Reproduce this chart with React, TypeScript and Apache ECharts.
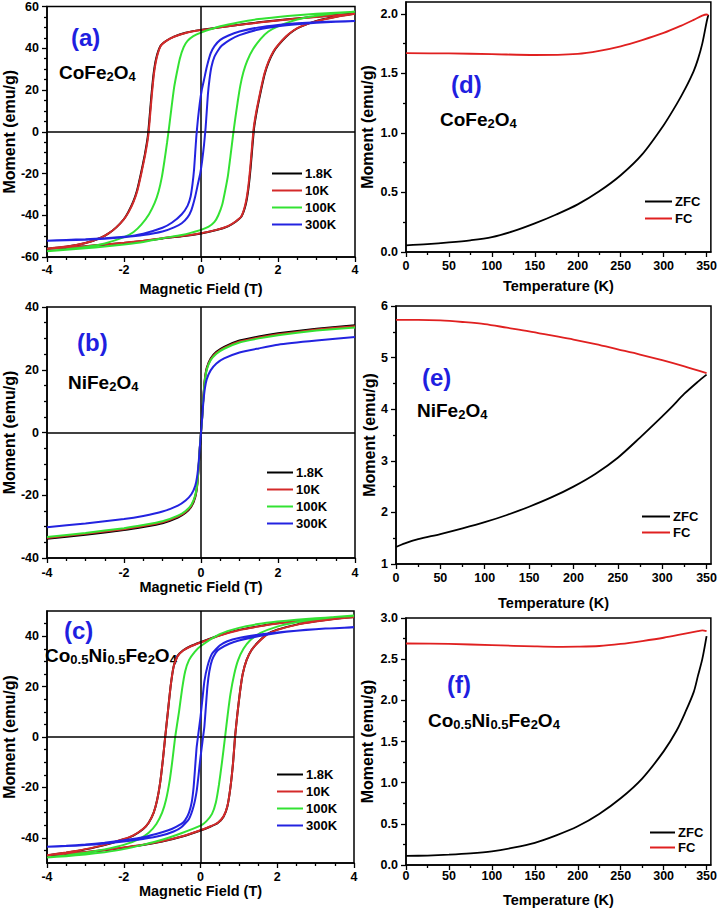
import React, { useEffect, useRef } from 'react';
import * as echarts from 'echarts';

const FONT = 'Arial, "Liberation Sans", Helvetica, sans-serif';

const TEMPS = ['1.8K', '10K', '100K', '300K'];
const COLORS_H = ['#000000', '#d42a2a', '#33e233', '#2323e0'];
const CURVES_T = ['ZFC', 'FC'];
const COLORS_T = ['#000000', '#e02020'];

// Tick labels
const H_MAJOR = [-4, -2, 0, 2, 4];
const H_MINOR = [-3.5, -3, -2.5, -1.5, -1, -0.5, 0.5, 1, 1.5, 2.5, 3, 3.5];
const MA_MAJOR = [-60, -40, -20, 0, 20, 40, 60];
const MA_MINOR = [-55, -50, -45, -35, -30, -25, -15, -10, -5, 5, 10, 15, 25, 30, 35, 45, 50, 55];
const MB_MAJOR = [-40, -20, 0, 20, 40];
const MB_MINOR = [-35, -30, -25, -15, -10, -5, 5, 10, 15, 25, 30, 35];
const MC_MAJOR = [-40, -20, 0, 20, 40];
const MC_MINOR = [-45, -35, -30, -25, -15, -10, -5, 5, 10, 15, 25, 30, 35, 45];
const T_MAJOR = [0, 50, 100, 150, 200, 250, 300, 350];
const T_MINOR = [25, 75, 125, 175, 225, 275, 325];
const MD_MAJOR = [0, 0.5, 1, 1.5, 2];
const MD_MINOR = [0.25, 0.75, 1.25, 1.75];
const ME_MAJOR = [1, 2, 3, 4, 5, 6];
const ME_MINOR = [1.5, 2.5, 3.5, 4.5, 5.5];
const MF_MAJOR = [0, 0.5, 1, 1.5, 2, 2.5, 3];
const MF_MINOR = [0.25, 0.75, 1.25, 1.75, 2.25, 2.75];

// (a) CoFe2O4 hysteresis loops [H (T), M (emu/g)]
const a_1p8K = [[4,56.6],[3.5,55.9],[3,55.1],[2.5,54.3],[2,53.4],[1.5,52.4],[1,51.3],[0.5,50.1],[0,48.8],[-0.4,47.4],[-0.7,45.6],[-0.9,43.6],[-1.05,41.2],[-1.16,35.5],[-1.23,28],[-1.29,17],[-1.34,6],[-1.38,-2],[-1.46,-11],[-1.56,-20],[-1.66,-28],[-1.76,-33.5],[-1.89,-38.5],[-2,-41.8],[-2.2,-45.8],[-2.4,-48.7],[-2.6,-50.8],[-3,-53.3],[-3.5,-55.1],[-4,-56.1],[-3.5,-55.6],[-3,-54.9],[-2.5,-54.1],[-2,-53.3],[-1.5,-52.3],[-1,-51.1],[-0.5,-50.1],[0,-48.7],[0.4,-47.1],[0.7,-45.3],[0.9,-43.1],[1.05,-40.6],[1.16,-35],[1.23,-27.5],[1.29,-17],[1.34,-6],[1.38,2],[1.46,11],[1.56,20],[1.66,28],[1.76,33.5],[1.89,38.5],[2.01,41.5],[2.21,45.5],[2.41,48.5],[2.61,50.5],[3,53.1],[3.5,55.1],[4,56.6]];
const a_10K = [[4,56.5],[3.5,55.8],[3,55],[2.5,54.2],[2,53.3],[1.5,52.3],[1,51.2],[0.5,50],[0,48.7],[-0.4,47.3],[-0.7,45.5],[-0.9,43.5],[-1.05,41],[-1.15,35.5],[-1.22,28],[-1.28,17],[-1.33,6],[-1.37,-2],[-1.45,-11],[-1.55,-20],[-1.65,-28],[-1.75,-33.5],[-1.88,-38.5],[-2,-41.8],[-2.2,-45.8],[-2.4,-48.7],[-2.6,-50.8],[-3,-53.3],[-3.5,-55],[-4,-56],[-3.5,-55.5],[-3,-54.8],[-2.5,-54],[-2,-53.2],[-1.5,-52.2],[-1,-51],[-0.5,-50],[0,-48.6],[0.4,-47],[0.7,-45.2],[0.9,-43],[1.05,-40.5],[1.15,-35],[1.22,-27.5],[1.28,-17],[1.33,-6],[1.37,2],[1.45,11],[1.55,20],[1.65,28],[1.75,33.5],[1.88,38.5],[2,41.5],[2.2,45.5],[2.4,48.5],[2.6,50.5],[3,53],[3.5,55],[4,56.5]];
const a_100K = [[4,57.5],[3.5,57],[3,56.5],[2.5,55.8],[2,55],[1.5,54],[1,52.5],[0.5,50.5],[0,47.5],[-0.2,45.8],[-0.35,43.5],[-0.45,40.5],[-0.55,35],[-0.63,28],[-0.7,21],[-0.77,11],[-0.83,2],[-0.88,-5],[-0.95,-14],[-1.02,-22],[-1.1,-28.5],[-1.2,-34],[-1.35,-39.5],[-1.55,-44.5],[-1.75,-48],[-2,-50.5],[-2.5,-53.5],[-3,-55.2],[-3.5,-56.3],[-4,-57.2],[-3.5,-56.5],[-3,-55.8],[-2.5,-55],[-2,-54],[-1.5,-52.8],[-1,-51],[-0.5,-49.5],[0,-47],[0.2,-45.5],[0.35,-43.2],[0.45,-40],[0.55,-35],[0.63,-28],[0.7,-21],[0.77,-11],[0.83,-2],[0.88,5],[0.95,14],[1.02,22],[1.1,28.5],[1.2,34],[1.35,39.5],[1.55,44.5],[1.75,48],[2,50.5],[2.5,53.8],[3,55.6],[3.5,56.8],[4,57.5]];
const a_300K = [[4,53],[3.5,52.8],[3,52.5],[2.5,52],[2,51.2],[1.5,50],[1,48],[0.7,46],[0.5,44],[0.35,41],[0.25,37.5],[0.15,31],[0.08,25],[0.02,20],[-0.03,14],[-0.08,6],[-0.12,-2],[-0.15,-10],[-0.18,-18],[-0.22,-25],[-0.27,-31],[-0.35,-35.5],[-0.5,-39.5],[-0.75,-43.5],[-1,-46],[-1.5,-48.8],[-2,-50.3],[-2.5,-51],[-3,-51.5],[-3.5,-51.8],[-4,-52.2],[-3.5,-52],[-3,-51.7],[-2.5,-51.2],[-2,-50.5],[-1.5,-49.5],[-1,-47.8],[-0.7,-45.8],[-0.5,-43.8],[-0.35,-41],[-0.25,-37.5],[-0.15,-31],[-0.08,-25],[-0.02,-20],[0.03,-14],[0.08,-6],[0.12,2],[0.15,10],[0.18,18],[0.22,25],[0.27,31],[0.35,36],[0.5,40.5],[0.75,44],[1,46.3],[1.5,49],[2,50.5],[2.5,51.5],[3,52.2],[3.5,52.7],[4,53]];

// (b) NiFe2O4
const b_1p8K = [[-4,-33.9],[-3,-32.6],[-2,-31.1],[-1.5,-30.1],[-1,-28.9],[-0.6,-27.1],[-0.4,-25.6],[-0.25,-23.6],[-0.15,-20.6],[-0.1,-17],[-0.06,-11],[-0.03,-5],[0,0],[0.03,5],[0.06,11],[0.1,17],[0.15,20.6],[0.25,23.6],[0.4,25.7],[0.6,27.3],[1,29.3],[1.5,30.6],[2,31.6],[3,33.1],[4,34.2]];
const b_10K = [[-4,-33.6],[-3,-32.3],[-2,-30.8],[-1.5,-29.8],[-1,-28.6],[-0.6,-26.8],[-0.4,-25.3],[-0.25,-23.3],[-0.15,-20.3],[-0.1,-16.8],[-0.06,-10.8],[-0.03,-4.9],[0,0],[0.03,4.9],[0.06,10.8],[0.1,16.8],[0.15,20.3],[0.25,23.3],[0.4,25.4],[0.6,27],[1,29],[1.5,30.3],[2,31.3],[3,32.8],[4,33.9]];
const b_100K = [[-4,-33.3],[-3,-32],[-2,-30.5],[-1.5,-29.5],[-1,-28.3],[-0.6,-26.5],[-0.4,-25],[-0.25,-23],[-0.15,-20],[-0.1,-16.5],[-0.06,-10.5],[-0.03,-4.8],[0,0],[0.03,4.8],[0.06,10.5],[0.1,16.5],[0.15,20],[0.25,23],[0.4,25.1],[0.6,26.7],[1,28.7],[1.5,30],[2,31],[3,32.5],[4,33.5]];
const b_300K = [[-4,-30.2],[-3,-29],[-2,-27.6],[-1.5,-26.6],[-1,-25.2],[-0.6,-23.3],[-0.4,-21.7],[-0.25,-19.7],[-0.15,-17],[-0.1,-14],[-0.06,-9.5],[-0.03,-4.5],[0,0],[0.03,4.5],[0.06,9.5],[0.1,14],[0.15,17],[0.25,19.8],[0.4,22],[0.6,23.6],[1,25.5],[1.5,26.8],[2,28],[3,29.3],[4,30.4]];

// (c) Co0.5Ni0.5Fe2O4
const c_1p8K = [[4,47.6],[3.5,47.1],[3,46.4],[2.5,45.8],[2,45.1],[1.5,43.9],[1,42.5],[0.5,40.4],[0,37.6],[-0.25,36.1],[-0.45,34.4],[-0.6,32.1],[-0.7,28],[-0.78,20],[-0.85,10],[-0.92,0],[-0.98,-9],[-1.05,-18],[-1.13,-25],[-1.22,-30],[-1.35,-34],[-1.5,-36.6],[-1.75,-39.1],[-2,-40.6],[-2.5,-42.9],[-3,-44.6],[-3.5,-45.9],[-4,-47],[-3.5,-46.4],[-3,-45.7],[-2.5,-44.9],[-2,-43.9],[-1.5,-42.9],[-1,-41.5],[-0.5,-39.6],[0,-37.1],[0.25,-35.6],[0.45,-34.1],[0.6,-31.6],[0.7,-27.6],[0.78,-20],[0.85,-10],[0.9,0],[0.96,9],[1.03,18],[1.1,25],[1.2,30.5],[1.33,34.5],[1.5,37.6],[1.75,40.9],[2,42.6],[2.5,44.6],[3,45.9],[3.5,46.9],[4,47.7]];
const c_10K = [[4,47.5],[3.5,47],[3,46.3],[2.5,45.7],[2,45],[1.5,43.8],[1,42.4],[0.5,40.3],[0,37.5],[-0.25,36],[-0.45,34.3],[-0.6,32],[-0.7,28],[-0.78,20],[-0.85,10],[-0.92,0],[-0.98,-9],[-1.05,-18],[-1.13,-25],[-1.22,-30],[-1.35,-34],[-1.5,-36.5],[-1.75,-39],[-2,-40.5],[-2.5,-42.8],[-3,-44.5],[-3.5,-45.8],[-4,-46.9],[-3.5,-46.3],[-3,-45.6],[-2.5,-44.8],[-2,-43.8],[-1.5,-42.8],[-1,-41.4],[-0.5,-39.5],[0,-37],[0.25,-35.5],[0.45,-34],[0.6,-31.5],[0.7,-27.5],[0.78,-20],[0.85,-10],[0.9,0],[0.96,9],[1.03,18],[1.1,25],[1.2,30.5],[1.33,34.5],[1.5,37.5],[1.75,40.8],[2,42.5],[2.5,44.5],[3,45.8],[3.5,46.8],[4,47.6]];
const c_100K = [[4,48],[3.5,47.6],[3,47.1],[2.5,46.5],[2,45.8],[1.5,44.8],[1,43.3],[0.5,40.8],[0,36],[-0.15,33.8],[-0.3,30.5],[-0.4,26],[-0.48,19],[-0.56,10],[-0.66,0],[-0.73,-9],[-0.8,-17],[-0.9,-25],[-1,-30],[-1.15,-34.5],[-1.35,-38],[-1.6,-40.5],[-2,-42.8],[-2.5,-44.6],[-3,-45.9],[-3.5,-47],[-4,-47.8],[-3.5,-47.3],[-3,-46.6],[-2.5,-45.7],[-2,-44.5],[-1.5,-42.8],[-1,-40.8],[-0.5,-38.2],[0,-35.2],[0.15,-33.5],[0.3,-30.5],[0.4,-26],[0.48,-19],[0.56,-10],[0.64,0],[0.71,9],[0.78,17],[0.88,25],[0.98,30.5],[1.12,35],[1.3,38.5],[1.55,41.2],[2,43.8],[2.5,45.5],[3,46.7],[3.5,47.6],[4,48.2]];
const c_300K = [[4,43.5],[3.5,43.2],[3,42.8],[2.5,42.2],[2,41.5],[1.5,40.6],[1,39.3],[0.7,38],[0.5,36.3],[0.3,33],[0.18,28],[0.1,22],[0.05,15],[0,8],[-0.05,2],[-0.1,-4],[-0.14,-12],[-0.18,-20],[-0.23,-26],[-0.3,-30],[-0.4,-33],[-0.5,-34.5],[-0.75,-36.5],[-1,-37.8],[-1.5,-39.8],[-2,-41],[-2.5,-42],[-3,-42.7],[-3.5,-43.2],[-4,-43.6],[-3.5,-43.3],[-3,-42.9],[-2.5,-42.3],[-2,-41.5],[-1.5,-40.5],[-1,-39],[-0.7,-37.5],[-0.5,-35.8],[-0.3,-32.5],[-0.18,-27.5],[-0.1,-21.5],[-0.05,-15],[0,-8],[0.05,-2],[0.1,4],[0.14,12],[0.18,20],[0.23,26],[0.3,30.5],[0.4,33.5],[0.5,35],[0.75,37],[1,38.3],[1.5,40],[2,41.3],[2.5,42.2],[3,42.8],[3.5,43.2],[4,43.6]];

// (d) CoFe2O4 ZFC / FC
const d_zfcT = [0, 25, 50, 75, 100, 125, 150, 175, 200, 225, 250, 275, 300, 315, 325, 335, 340, 345, 350, 352];
const d_zfcM = [0.056, 0.066, 0.08, 0.098, 0.125, 0.175, 0.24, 0.315, 0.4, 0.51, 0.645, 0.82, 1.065, 1.24, 1.37, 1.52, 1.62, 1.75, 1.93, 1.99];
const d_fcT = [0, 50, 100, 150, 200, 225, 250, 275, 300, 320, 335, 345, 350, 352];
const d_fcM = [1.67, 1.668, 1.662, 1.655, 1.665, 1.69, 1.728, 1.78, 1.84, 1.9, 1.95, 1.985, 1.995, 1.99];

// (e) NiFe2O4 ZFC / FC
const e_zfcT = [0, 10, 25, 50, 75, 100, 125, 150, 175, 200, 225, 250, 275, 300, 310, 325, 340, 350];
const e_zfcM = [1.33, 1.4, 1.48, 1.58, 1.69, 1.81, 1.95, 2.11, 2.29, 2.5, 2.75, 3.06, 3.45, 3.86, 4.03, 4.3, 4.53, 4.67];
const e_fcT = [0, 25, 50, 75, 100, 125, 150, 175, 200, 225, 250, 275, 300, 325, 350];
const e_fcM = [5.73, 5.73, 5.72, 5.69, 5.65, 5.58, 5.51, 5.43, 5.35, 5.26, 5.16, 5.06, 4.95, 4.83, 4.7];

// (f) Co0.5Ni0.5Fe2O4 ZFC / FC
const f_zfcT = [0, 25, 50, 75, 100, 125, 150, 175, 200, 225, 250, 275, 300, 315, 325, 335, 340, 345, 350];
const f_zfcM = [0.11, 0.115, 0.125, 0.14, 0.165, 0.21, 0.27, 0.36, 0.47, 0.62, 0.81, 1.05, 1.38, 1.63, 1.85, 2.1, 2.3, 2.5, 2.78];
const f_fcT = [0, 50, 100, 150, 175, 200, 225, 250, 275, 300, 325, 340, 345, 350];
const f_fcM = [2.69, 2.685, 2.67, 2.655, 2.65, 2.652, 2.66, 2.685, 2.72, 2.76, 2.81, 2.84, 2.85, 2.84];

const zip = (xs: number[], ys: number[]) => xs.map((x, i) => [x, ys[i]]);

type Panel = {
  grid: { left: number; top: number; width: number; height: number };
  xMin: number; xMax: number; xMajor: number[]; xMinor: number[];
  yMin: number; yMax: number; yMajor: number[]; yMinor: number[];
  xName: string; xGap: number; yGap: number; xMargin: number; yFmt: (v: number) => string;
  kind: 'H' | 'T';
  series: number[][][];
  legend: { left: number; top: number; w: number; gap: number };
  letter: { text: string; x: number; y: number };
  formula: { text: string; x: number; y: number };
};

const intFmt = (v: number) => String(v);
const oneFmt = (v: number) => v.toFixed(1);

const PANELS: Panel[] = [
  {
    grid: { left: 45, top: 6, width: 310, height: 251 },
    xMin: -4, xMax: 4, xMajor: H_MAJOR, xMinor: H_MINOR,
    yMin: -60, yMax: 60, yMajor: MA_MAJOR, yMinor: MA_MINOR,
    xName: 'Magnetic Field (T)', xGap: 24, yGap: 30, xMargin: 6, yFmt: intFmt, kind: 'H',
    series: [a_1p8K, a_10K, a_100K, a_300K],
    legend: { left: 272, top: 166, w: 30, gap: 2 },
    letter: { text: '(a)', x: 71, y: 37 },
    formula: { text: '{m|CoFe}{s|2}{m|O}{s|4}', x: 59, y: 72 },
  },
  {
    grid: { left: 45, top: 307, width: 310, height: 251 },
    xMin: -4, xMax: 4, xMajor: H_MAJOR, xMinor: H_MINOR,
    yMin: -40, yMax: 40, yMajor: MB_MAJOR, yMinor: MB_MINOR,
    xName: 'Magnetic Field (T)', xGap: 20, yGap: 30, xMargin: 8, yFmt: intFmt, kind: 'H',
    series: [b_1p8K, b_10K, b_100K, b_300K],
    legend: { left: 267, top: 465, w: 26, gap: 2 },
    letter: { text: '(b)', x: 77, y: 342 },
    formula: { text: '{m|NiFe}{s|2}{m|O}{s|4}', x: 68, y: 382 },
  },
  {
    grid: { left: 44, top: 611, width: 310, height: 252 },
    xMin: -4, xMax: 4, xMajor: H_MAJOR, xMinor: H_MINOR,
    yMin: -50, yMax: 50, yMajor: MC_MAJOR, yMinor: MC_MINOR,
    xName: 'Magnetic Field (T)', xGap: 20, yGap: 30, xMargin: 7, yFmt: intFmt, kind: 'H',
    series: [c_1p8K, c_10K, c_100K, c_300K],
    legend: { left: 277, top: 767, w: 26, gap: 2 },
    letter: { text: '(c)', x: 64, y: 630 },
    formula: { text: '{m|Co}{s|0.5}{m|Ni}{s|0.5}{m|Fe}{s|2}{m|O}{s|4}', x: 45, y: 655 },
  },
  {
    grid: { left: 406, top: 2, width: 306, height: 250 },
    xMin: 0, xMax: 355, xMajor: T_MAJOR, xMinor: T_MINOR,
    yMin: 0, yMax: 2.1, yMajor: MD_MAJOR, yMinor: MD_MINOR,
    xName: 'Temperature (K)', xGap: 26, yGap: 31, xMargin: 7, yFmt: oneFmt, kind: 'T',
    series: [zip(d_zfcT, d_zfcM), zip(d_fcT, d_fcM)],
    legend: { left: 645, top: 194, w: 27, gap: 2 },
    letter: { text: '(d)', x: 451, y: 84 },
    formula: { text: '{m|CoFe}{s|2}{m|O}{s|4}', x: 440, y: 119 },
  },
  {
    grid: { left: 396, top: 306, width: 317, height: 258 },
    xMin: 0, xMax: 355, xMajor: T_MAJOR, xMinor: T_MINOR,
    yMin: 1, yMax: 6, yMajor: ME_MAJOR, yMinor: ME_MINOR,
    xName: 'Temperature (K)', xGap: 31, yGap: 19, xMargin: 7, yFmt: intFmt, kind: 'T',
    series: [zip(e_zfcT, e_zfcM), zip(e_fcT, e_fcM)],
    legend: { left: 642, top: 509, w: 28, gap: 1 },
    letter: { text: '(e)', x: 422, y: 377 },
    formula: { text: '{m|NiFe}{s|2}{m|O}{s|4}', x: 417, y: 410 },
  },
  {
    grid: { left: 406, top: 618, width: 306, height: 250 },
    xMin: 0, xMax: 355, xMajor: T_MAJOR, xMinor: T_MINOR,
    yMin: 0, yMax: 3, yMajor: MF_MAJOR, yMinor: MF_MINOR,
    xName: 'Temperature (K)', xGap: 27, yGap: 31, xMargin: 4, yFmt: oneFmt, kind: 'T',
    series: [zip(f_zfcT, f_zfcM), zip(f_fcT, f_fcM)],
    legend: { left: 650, top: 825, w: 25, gap: 0 },
    letter: { text: '(f)', x: 447, y: 684 },
    formula: { text: '{m|Co}{s|0.5}{m|Ni}{s|0.5}{m|Fe}{s|2}{m|O}{s|4}', x: 428, y: 720 },
  },
];

const txt = { fontFamily: FONT, fontWeight: 'bold' as const, color: '#000' };

function buildOption() {
  const grids: any[] = [];
  const xAxes: any[] = [];
  const yAxes: any[] = [];
  const series: any[] = [];
  const legends: any[] = [];
  const graphics: any[] = [];

  PANELS.forEach((p, gi) => {
    grids.push({ ...p.grid, show: true, borderColor: '#000', borderWidth: 1.5, backgroundColor: 'transparent' });
    const lineStyle = { color: '#000', width: 1.3 };
    xAxes.push({
      type: 'value', gridIndex: gi, min: p.xMin, max: p.xMax, position: 'bottom',
      name: p.xName, nameLocation: 'middle', nameGap: p.xGap,
      nameTextStyle: { ...txt, fontSize: 14.5 },
      axisLine: { show: true, onZero: false, lineStyle: { color: '#000', width: 1.5 } },
      axisTick: { show: true, inside: false, length: 5, customValues: p.xMajor, lineStyle },
      axisLabel: { show: true, customValues: p.xMajor, margin: p.xMargin, ...txt, fontSize: 12.5, formatter: (v: number) => String(v) },
      splitLine: { show: false },
    });
    xAxes.push({
      type: 'value', gridIndex: gi, min: p.xMin, max: p.xMax, position: 'bottom',
      axisLine: { show: false, onZero: false },
      axisTick: { show: true, inside: false, length: 3, customValues: p.xMinor, lineStyle },
      axisLabel: { show: false },
      splitLine: { show: false },
    });
    yAxes.push({
      type: 'value', gridIndex: gi, min: p.yMin, max: p.yMax, position: 'left',
      name: 'Moment (emu/g)', nameLocation: 'middle', nameGap: p.yGap, nameRotate: 90,
      nameTextStyle: { ...txt, fontSize: 16 },
      axisLine: { show: true, onZero: false, lineStyle: { color: '#000', width: 1.5 } },
      axisTick: { show: true, inside: false, length: 5, customValues: p.yMajor, lineStyle },
      axisLabel: { show: true, customValues: p.yMajor, margin: 8, ...txt, fontSize: 12.5, formatter: p.yFmt },
      splitLine: { show: false },
    });
    yAxes.push({
      type: 'value', gridIndex: gi, min: p.yMin, max: p.yMax, position: 'left',
      axisLine: { show: false, onZero: false },
      axisTick: { show: true, inside: false, length: 3, customValues: p.yMinor, lineStyle },
      axisLabel: { show: false },
      splitLine: { show: false },
    });

    const names = p.kind === 'H' ? TEMPS : CURVES_T;
    const colors = p.kind === 'H' ? COLORS_H : COLORS_T;
    p.series.forEach((data, si) => {
      const s: any = {
        type: 'line', name: names[si], xAxisIndex: gi * 2, yAxisIndex: gi * 2,
        data, symbol: 'none', smooth: p.kind === 'T' ? 0.3 : 0.15,
        lineStyle: { color: colors[si], width: p.kind === 'H' ? 2 : 1.8 },
        itemStyle: { color: colors[si] },
        silent: true, z: 2 + si,
      };
      if (p.kind === 'H' && si === p.series.length - 1) {
        s.markLine = {
          silent: true, symbol: ['none', 'none'], label: { show: false },
          lineStyle: { color: '#000', type: 'solid', width: 1.5 },
          data: [{ yAxis: 0 }, { xAxis: 0 }],
        };
      }
      series.push(s);
    });

    legends.push({
      data: names, orient: 'vertical', left: p.legend.left, top: p.legend.top,
      itemWidth: p.legend.w, itemHeight: 2, icon: 'rect', itemGap: p.legend.gap,
      selectedMode: false, padding: 0,
      textStyle: { ...txt, fontSize: 13, lineHeight: 15, padding: [0, 0, 0, -2] },
    });

    graphics.push({
      type: 'text', x: p.letter.x, y: p.letter.y,
      style: { text: p.letter.text, fill: '#1f1fe0', font: `bold 24px ${FONT}`, verticalAlign: 'middle', align: 'left' },
    });
    graphics.push({
      type: 'text', x: p.formula.x, y: p.formula.y,
      style: {
        text: p.formula.text, verticalAlign: 'middle', align: 'left', fill: '#000',
        rich: {
          m: { fontFamily: FONT, fontWeight: 'bold', fontSize: 19, lineHeight: 20, fill: '#000' },
          s: { fontFamily: FONT, fontWeight: 'bold', fontSize: 13, lineHeight: 13, padding: [9, 0, 0, 0], fill: '#000' },
        },
      },
    });
  });

  return {
    animation: false,
    backgroundColor: '#ffffff',
    grid: grids,
    xAxis: xAxes,
    yAxis: yAxes,
    legend: legends,
    series,
    graphic: graphics,
  };
}

export default function App() {
  const ref = useRef<HTMLDivElement>(null);
  useEffect(() => {
    if (!ref.current) return;
    const chart = echarts.init(ref.current, undefined, { renderer: 'svg' });
    chart.setOption(buildOption() as any);
    return () => chart.dispose();
  }, []);
  return <div ref={ref} style={{ position: 'fixed', left: 0, top: 0, width: 720, height: 908 }} />;
}
